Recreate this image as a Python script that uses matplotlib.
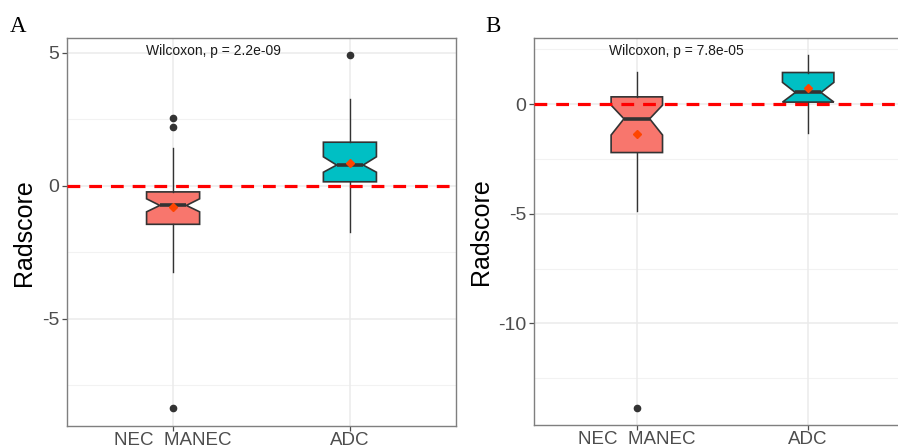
import matplotlib
matplotlib.use("Agg")
import matplotlib.pyplot as plt
import matplotlib.transforms as mtransforms

plt.rcParams['font.family'] = ['Liberation Sans', 'DejaVu Sans']

# ---- data ----
groups = ["NEC  MANEC", "ADC"]
box_colors = ["#F8766D", "#00BFC4"]

# panel A
a_q1 = [-1.45, 0.15]
a_med = [-0.74, 0.78]
a_q3 = [-0.23, 1.64]
a_whislo = [-3.26, -1.75]
a_whishi = [1.43, 3.25]
a_cilo = [-0.98, 0.51]
a_cihi = [-0.49, 1.09]
a_mean = [-0.79, 0.86]
a_fliers = [[2.54, 2.20, -8.37], [4.92]]
a_label = "Wilcoxon, p = 2.2e-09"

# panel B
b_q1 = [-2.21, 0.09]
b_med = [-0.67, 0.53]
b_q3 = [0.33, 1.44]
b_whislo = [-4.86, -1.31]
b_whishi = [1.47, 2.23]
b_cilo = [-1.41, 0.09]
b_cihi = [-0.05, 0.99]
b_mean = [-1.36, 0.72]
b_fliers = [[-13.87], []]
b_label = "Wilcoxon, p = 7.8e-05"

W, H = 898, 448
fig = plt.figure(figsize=(W / 100, H / 100), dpi=100)


def px_axes(left, top, right, bottom):
    return fig.add_axes([left / W, 1 - bottom / H, (right - left) / W, (bottom - top) / H])


def draw_panel(ax, q1, med, q3, wlo, whi, cilo, cihi, means, fliers, label,
               ylim, yticks, yminor):
    stats = []
    for i in range(len(groups)):
        stats.append(dict(q1=q1[i], med=med[i], q3=q3[i], whislo=wlo[i], whishi=whi[i],
                          cilo=cilo[i], cihi=cihi[i], fliers=fliers[i], label=groups[i]))
    pos = list(range(1, len(groups) + 1))

    for y in yticks:
        ax.axhline(y, color="#EBEBEB", lw=1.1, zorder=0)
    for y in yminor:
        ax.axhline(y, color="#F2F2F2", lw=0.8, zorder=0)
    for x in pos:
        ax.axvline(x, color="#EBEBEB", lw=1.1, zorder=0)

    bp = ax.bxp(stats, positions=pos, widths=0.3, shownotches=True, patch_artist=True,
                showcaps=False,
                boxprops=dict(edgecolor="#333333", linewidth=1.2),
                medianprops=dict(color="#333333", linewidth=2.6),
                whiskerprops=dict(color="#333333", linewidth=1.0),
                flierprops=dict(marker="o", markersize=4.5, markerfacecolor="#333333",
                                markeredgecolor="#333333"),
                manage_ticks=False, zorder=2)
    for patch, c in zip(bp["boxes"], box_colors):
        patch.set_facecolor(c)

    ax.axhline(0, color="#FF0000", lw=2.3, linestyle=(0, (4.0, 2.8)), zorder=3)
    ax.plot(pos, means, linestyle="none", marker="D", markersize=4.5,
            color="#FF4500", zorder=4)

    ax.set_xlim(0.4, 2.6)
    ax.set_ylim(*ylim)
    ax.set_xticks(pos)
    ax.set_xticklabels(groups)
    ax.set_yticks(yticks)
    ax.set_yticklabels([str(t) for t in yticks])
    ax.tick_params(axis="both", labelsize=14, labelcolor="#4D4D4D", color="#4D4D4D",
                   length=3.5, width=0.9, pad=2)
    ax.tick_params(axis="x", labelsize=13.5, pad=1)
    for s in ax.spines.values():
        s.set_color("#7F7F7F")
        s.set_linewidth(1.0)
    ax.set_ylabel("Radscore", fontsize=18, color="black", labelpad=4)

    trans = mtransforms.blended_transform_factory(ax.transData, ax.transAxes)
    ax.text(1.23, 0.967, label, transform=trans, ha="center", va="center",
            fontsize=10, color="#1A1A1A")


ax_a = px_axes(67, 38.3, 456, 426)
draw_panel(ax_a, a_q1, a_med, a_q3, a_whislo, a_whishi, a_cilo, a_cihi, a_mean,
           a_fliers, a_label, (-9.04, 5.55), [-5, 0, 5], [-7.5, -2.5, 2.5])

ax_b = px_axes(534, 38.3, 911, 424.5)
draw_panel(ax_b, b_q1, b_med, b_q3, b_whislo, b_whishi, b_cilo, b_cihi, b_mean,
           b_fliers, b_label, (-14.61, 3.0), [-10, -5, 0], [-12.5, -7.5, -2.5, 2.5])

fig.text(10 / W, 1 - 32 / H, "A", family="Liberation Serif", fontsize=16.5, ha="left",
         va="baseline")
fig.text(485 / W, 1 - 32 / H, "B", family="Liberation Serif", fontsize=16.5, ha="left",
         va="baseline")

fig.savefig("out.png", dpi=100)
